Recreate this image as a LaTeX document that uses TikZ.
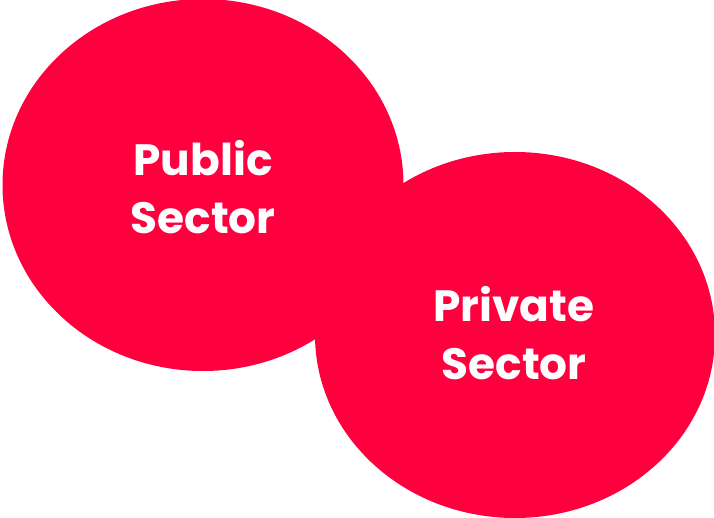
\documentclass[tikz,border=0pt]{standalone}
\usepackage{fontspec}
\setmainfont{Poppins}
\usetikzlibrary{shapes.geometric}
\definecolor{circred}{HTML}{FF003F}
\tikzset{
  blob/.style={ellipse, fill=circred, draw=none, inner sep=0pt},
  lbl/.style={text=white, font=\fontsize{44}{58}\selectfont\bfseries, align=center}
}
\begin{document}
\begin{tikzpicture}[x=1bp,y=-1bp]
\useasboundingbox (0,0) rectangle (714,518);
\node[blob, minimum width=401bp, minimum height=372bp] (pub) at (203,185) {};
\node[blob, minimum width=400bp, minimum height=366bp] (priv) at (515,335) {};
\node[lbl] (publbl) at (203,187) {Public\\Sector};
\node[lbl] (privlbl) at (514,333) {Private\\Sector};
\end{tikzpicture}
\end{document}
